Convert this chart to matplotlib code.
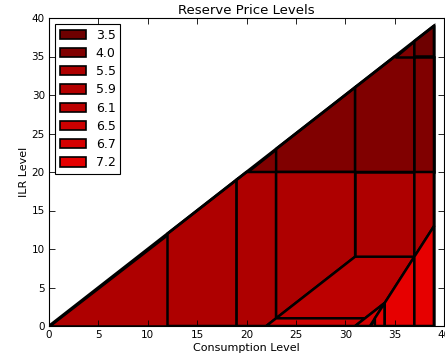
import matplotlib
matplotlib.use('Agg')
import matplotlib.pyplot as plt
from matplotlib.patches import Polygon, Patch

# price level for each zone and the colour it is drawn with
price_levels = [3.5, 4.0, 5.5, 5.9, 6.1, 6.5, 6.7, 7.2]
level_colors = ['#6e0000', '#800000', '#ae0000', '#b40000',
                '#bc0000', '#cc0000', '#d60000', '#e60000']

# zones of the (consumption, ILR) plane, with the price level of each
zones_upper = [
    [(20, 20), (23, 20), (23, 23)],
    [(23, 20), (31, 20), (31, 31), (23, 23)],
    [(31, 20), (37, 20), (37, 35), (35, 35), (31, 31)],
    [(37, 20), (39, 20), (39, 35), (37, 35)],
    [(35, 35), (37, 35), (37, 37)],
    [(37, 35), (39, 35), (39, 39), (37, 37)],
]
zones_upper_price = [4.0, 4.0, 4.0, 4.0, 4.0, 3.5]

zones_lower = [
    [(0, 0), (12, 0), (12, 12)],
    [(12, 0), (19, 0), (19, 19), (12, 12)],
    [(19, 0), (22, 0), (23, 1), (23, 20), (20, 20), (19, 19)],
    [(23, 1), (31, 9), (31, 20), (23, 20)],
    [(31, 9), (37, 9), (37, 20), (31, 20)],
    [(37, 9), (39, 13), (39, 20), (37, 20)],
    [(23, 1), (32, 1), (34, 3), (37, 9), (31, 9)],
    [(22, 0), (31, 0), (32, 1), (23, 1)],
    [(31, 0), (32.5, 0), (33, 1), (34, 3), (33, 2), (32, 1)],
    [(32.5, 0), (33, 0), (33, 1)],
    [(33, 0), (34, 0), (34, 3), (33, 1)],
    [(34, 0), (37, 0), (37, 9), (34, 3)],
    [(37, 0), (39, 0), (39, 13), (37, 9)],
]
zones_lower_price = [5.5, 5.5, 5.5, 5.5, 5.5, 5.9, 6.1, 6.5, 6.7,
                     7.2, 7.2, 7.2, 7.2]

plt.rcParams['font.family'] = 'DejaVu Sans'

fig = plt.figure(figsize=(4.45, 3.58), dpi=100)
ax = fig.add_axes([49 / 445, 32 / 358, 395 / 445, 308 / 358])

for pts, p in zip(zones_upper + zones_lower, zones_upper_price + zones_lower_price):
    c = level_colors[price_levels.index(p)]
    ax.add_patch(Polygon(pts, closed=True, facecolor=c, edgecolor='black',
                         linewidth=1.8, joinstyle='miter'))

# outline of the feasible triangle
ax.plot([0, 39, 39], [0, 39, 0], color='black', linewidth=2)

ax.set_xlim(0, 40)
ax.set_ylim(0, 40)
ax.set_xticks(range(0, 41, 5))
ax.set_yticks(range(0, 41, 5))
ax.tick_params(direction='in', top=True, right=True, labelsize=7.5,
               length=4, width=0.6, pad=3)
for s in ax.spines.values():
    s.set_linewidth(0.8)

ax.set_title('Reserve Price Levels', fontsize=9.5, pad=3)
ax.set_xlabel('Consumption Level', fontsize=8, labelpad=2)
ax.set_ylabel('ILR Level', fontsize=8, labelpad=2)

handles = [Patch(facecolor=c, edgecolor='black', linewidth=1.2)
           for c in level_colors]
labels = ['%.1f' % p for p in price_levels]
leg = ax.legend(handles, labels, loc='upper left', fontsize=9,
                fancybox=False, framealpha=1, edgecolor='black',
                borderaxespad=0.5, labelspacing=0.42, handlelength=2.1,
                handleheight=0.75, handletextpad=0.8, borderpad=0.35)
leg.get_frame().set_linewidth(0.8)

fig.savefig('out.png', dpi=100, facecolor='white')
